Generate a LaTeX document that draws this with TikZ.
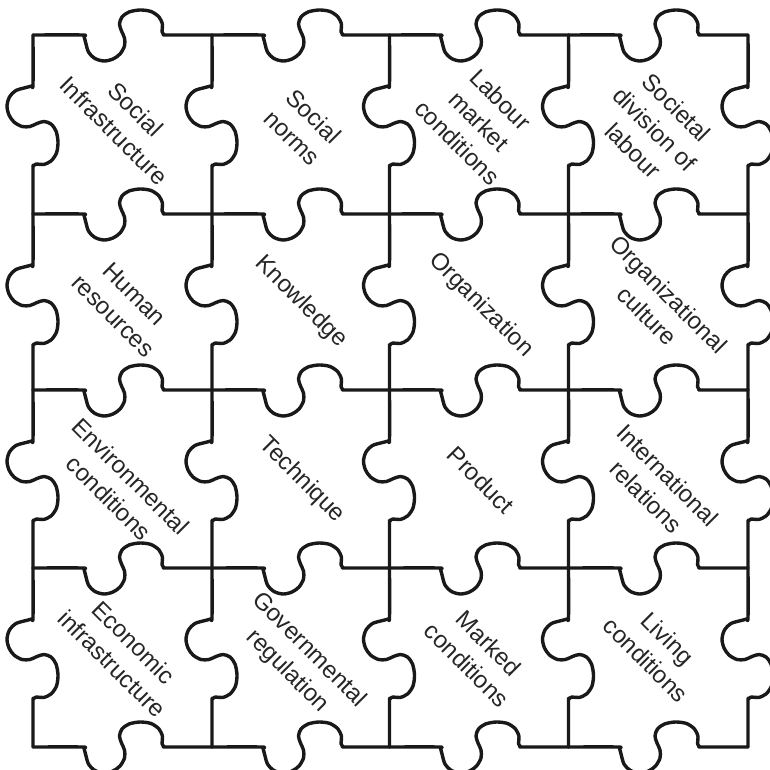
\documentclass[tikz,border=0pt]{standalone}
\usepackage{fontspec}
\setmainfont{Liberation Sans}
\tikzset{
  edgeline/.style={draw=black!90, line width=3.4pt, line join=round, line cap=round},
  lbl/.style={rotate=-45, align=center, font=\fontsize{24}{30.5}\selectfont, text=black!85, inner sep=0pt}
}
\newcommand\tabedge[4]{%
  \draw[edgeline,shift={(#1,#2)},rotate=#3] plot[smooth,tension=0.5] coordinates {(0,0) (49,0) (51,1.5) (52.5,7) (55.5,17) (62,23.5) (71,26) (80,24) (87,19) (91.5,11) (91.5,3) (88.5,-4) (86.5,-11) (89,-18) (96,-23) (107,-25) (118,-23.5) (126,-18) (129.5,-10.5) (129,-3.5) (131,-0.5) (134,0) ({#4},0)};}
\begin{document}
\begin{tikzpicture}[x=1pt,y=-1pt]
\useasboundingbox (0,0) rectangle (769,770);
\fill[white] (0,0) rectangle (769,770);
\foreach \xa/\xb in {33/212,212/389.5,389.5/568.5,568.5/748}{
  \foreach \yy in {35,214,390,568,747}{\tabedge{\xa}{\yy}{0}{\xb-\xa}}}
\foreach \ya/\yb in {35/214,214/390,390/568,568/747}{
  \foreach \xx in {33,212,389.5,568.5,748}{\tabedge{\xx}{\ya}{-90}{\yb-\ya}}}
\node[lbl] (p11) at (125,120) {Social\\Infrastructure};
\node[lbl] (p12) at (303,127) {Social\\norms};
\node[lbl] (p13) at (479,121) {Labour\\market\\conditions};
\node[lbl] (p14) at (655,129) {Societal\\division of\\labour};
\node[lbl] (p21) at (124,305) {Human\\resources};
\node[lbl] (p22) at (301,302) {Knowledge};
\node[lbl] (p23) at (481,305) {Organization};
\node[lbl] (p24) at (658,305) {Organizational\\culture};
\node[lbl] (p31) at (120,487) {Environmental\\conditions};
\node[lbl] (p32) at (302,480) {Technique};
\node[lbl] (p33) at (481,480) {Product};
\node[lbl] (p34) at (657,486) {International\\relations};
\node[lbl] (p41) at (123,653) {Economic\\infrastructure};
\node[lbl] (p42) at (298,661) {Governmental\\regulation};
\node[lbl] (p43) at (478,654) {Marked\\conditions};
\node[lbl] (p44) at (657,649) {Living\\conditions};
\end{tikzpicture}
\end{document}
